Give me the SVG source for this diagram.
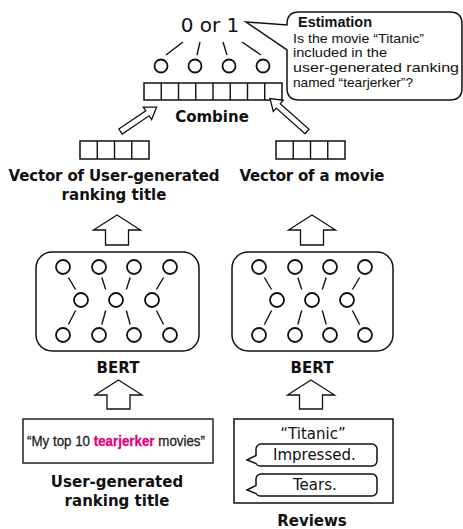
<svg xmlns="http://www.w3.org/2000/svg" width="463" height="529" viewBox="0 0 463 529">
<style>
.lbl{font-family:"DejaVu Sans",Verdana,sans-serif;font-weight:bold;font-size:15px;fill:#111;text-anchor:middle}
.reg{font-family:"DejaVu Sans",Verdana,sans-serif;font-size:15px;fill:#111}
.call{font-family:"Liberation Sans",Arial,sans-serif;font-size:13px;fill:#111}
.ln{stroke:#111;stroke-width:1.4;fill:none}
.box{stroke:#111;stroke-width:1.5;fill:#fff}
.nd{stroke:#111;stroke-width:1.8;fill:#fff}
.arr{stroke:#111;stroke-width:1.3;fill:#fff;stroke-linejoin:miter}
</style>

<g id="output">
<text x="210" y="32" style="font-family:'DejaVu Sans',Verdana,sans-serif;font-size:20px;fill:#111;text-anchor:middle">0 or 1</text>
<circle class="nd" cx="161" cy="66" r="6.5"/>
<circle class="nd" cx="195" cy="66" r="6.5"/>
<circle class="nd" cx="229" cy="66" r="6.5"/>
<circle class="nd" cx="263" cy="66" r="6.5"/>
</g>

<g id="estimation">
<path class="box" d="M246,22 L287,25 V24 Q287,12 299,12 H450 Q462,12 462,24 V88 Q462,100 450,100 H299 Q287,100 287,88 V50 Z"/>
<text x="298" y="27" style="font-family:'Liberation Sans',Arial,sans-serif;font-weight:bold;font-size:15px;fill:#111" textLength="74" lengthAdjust="spacingAndGlyphs">Estimation</text>
<text class="call" x="293" y="42.5" textLength="131" lengthAdjust="spacingAndGlyphs">Is the movie “Titanic”</text>
<text class="call" x="293" y="57.4" textLength="94" lengthAdjust="spacingAndGlyphs">included in the</text>
<text class="call" x="293" y="72.3" textLength="166" lengthAdjust="spacingAndGlyphs">user-generated ranking</text>
<text class="call" x="293" y="87.2" textLength="120" lengthAdjust="spacingAndGlyphs">named “tearjerker”?</text>
</g>

<g id="combine">
<rect class="box" x="144" y="83" width="138" height="17"/>
<path class="ln" d="M161.25,83V100M178.5,83V100M195.75,83V100M213,83V100M230.25,83V100M247.5,83V100M264.75,83V100"/>
<text class="lbl" x="212" y="122">Combine</text>
</g>

<g id="vec-title">
<rect class="box" x="80" y="141" width="69" height="18"/>
<path class="ln" d="M97.25,141V159M114.5,141V159M131.75,141V159"/>
<text class="lbl" x="114" y="181" textLength="211">Vector of User-generated</text>
<text class="lbl" x="114" y="200">ranking title</text>
</g>

<g id="vec-movie">
<rect class="box" x="276" y="141" width="69" height="18"/>
<path class="ln" d="M293.25,141V159M310.5,141V159M327.75,141V159"/>
<text class="lbl" x="312" y="181" textLength="145">Vector of a movie</text>
</g>

<g id="bert-left">
<rect class="box" x="36" y="252" width="163" height="99" rx="16"/>
<path class="ln" d="M68.4,277.5L75.6,289.5M101.8,277.5L105.7,289.5M130.2,277.5L126.3,289.5M163.6,277.5L156.4,289.5M75.6,310.5L68.4,324.5M105.7,310.5L101.8,324.5M126.3,310.5L130.2,324.5M156.4,310.5L163.6,324.5"/>
<circle class="nd" cx="63" cy="267" r="7"/>
<circle class="nd" cx="99" cy="267" r="7"/>
<circle class="nd" cx="134" cy="267" r="7"/>
<circle class="nd" cx="170" cy="267" r="7"/>
<circle class="nd" cx="81" cy="300" r="7"/>
<circle class="nd" cx="116" cy="300" r="7"/>
<circle class="nd" cx="152" cy="300" r="7"/>
<circle class="nd" cx="63" cy="335" r="7"/>
<circle class="nd" cx="99" cy="335" r="7"/>
<circle class="nd" cx="134" cy="335" r="7"/>
<circle class="nd" cx="170" cy="335" r="7"/>
<text class="lbl" x="118" y="373">BERT</text>
</g>

<g id="bert-right">
<rect class="box" x="232" y="252" width="161" height="99" rx="16"/>
<path class="ln" d="M264.4,277.5L271.6,289.5M297.8,277.5L301.7,289.5M326.2,277.5L322.3,289.5M359.6,277.5L352.4,289.5M271.6,310.5L264.4,324.5M301.7,310.5L297.8,324.5M322.3,310.5L326.2,324.5M352.4,310.5L359.6,324.5"/>
<circle class="nd" cx="259" cy="267" r="7"/>
<circle class="nd" cx="295" cy="267" r="7"/>
<circle class="nd" cx="330" cy="267" r="7"/>
<circle class="nd" cx="365" cy="267" r="7"/>
<circle class="nd" cx="277" cy="300" r="7"/>
<circle class="nd" cx="312" cy="300" r="7"/>
<circle class="nd" cx="347" cy="300" r="7"/>
<circle class="nd" cx="259" cy="335" r="7"/>
<circle class="nd" cx="295" cy="335" r="7"/>
<circle class="nd" cx="330" cy="335" r="7"/>
<circle class="nd" cx="365" cy="335" r="7"/>
<text class="lbl" x="312" y="373">BERT</text>
</g>

<g id="ranking-title">
<rect x="23" y="419" width="190" height="44" style="stroke:#222;stroke-width:1.5;fill:#fff"/>
<text x="116" y="446" textLength="178" lengthAdjust="spacingAndGlyphs" style="font-family:'Liberation Sans',Arial,sans-serif;font-size:14.5px;fill:#222;stroke:#222;stroke-width:0.3;text-anchor:middle">“My top 10 <tspan style="fill:#e5007f;stroke:#e5007f;font-weight:bold">tearjerker</tspan> movies”</text>
<text class="lbl" x="117" y="487">User-generated</text>
<text class="lbl" x="117" y="506">ranking title</text>
</g>

<g id="reviews">
<rect class="box" x="234" y="419" width="159" height="84"/>
<text class="reg" x="313" y="439" style="text-anchor:middle">“Titanic”</text>
<path class="box" d="M261,444 H372 A5,5 0 0 1 377,449 V461 A5,5 0 0 1 372,466 H261 A5,5 0 0 1 256,463.5 L247,460 L256,455.5 V449 A5,5 0 0 1 261,444 Z"/>
<text class="reg" x="273" y="460">Impressed.</text>
<path class="box" d="M261,474 H372 A5,5 0 0 1 377,479 V491 A5,5 0 0 1 372,496 H261 A5,5 0 0 1 256,493.5 L247,490 L256,485.5 V479 A5,5 0 0 1 261,474 Z"/>
<text class="reg" x="293" y="490">Tears.</text>
<text class="lbl" x="312" y="526">Reviews</text>
</g>

<g id="connectors">
<path class="ln" d="M183,42L166,55M200,42L197,55M223,42L227,55M242,42L261,55"/>
<polygon class="arr" points="0,-3 32.5,-3 32.5,-7.5 43.5,0 32.5,7.5 32.5,3 0,3" transform="translate(120.5,131.5) rotate(-34)"/>
<polygon class="arr" points="0,-3 38.5,-3 38.5,-7.5 49.5,0 38.5,7.5 38.5,3 0,3" transform="translate(307,131.5) rotate(-138.3)"/>
<path class="arr" d="M117,215 L140.5,230 L128.5,230 L128.5,245 L105.5,245 L105.5,230 L93.5,230 Z"/>
<path class="arr" d="M312,215 L335.5,230 L323.5,230 L323.5,245 L300.5,245 L300.5,230 L288.5,230 Z"/>
<path class="arr" d="M118.5,380 L142,395 L130,395 L130,409 L107,409 L107,395 L95,395 Z"/>
<path class="arr" d="M311,380 L334.5,395 L322.5,395 L322.5,409 L299.5,409 L299.5,395 L287.5,395 Z"/>
</g>
</svg>
